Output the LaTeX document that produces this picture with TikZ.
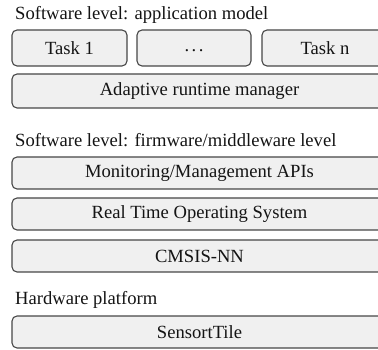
\documentclass[tikz,border=0pt]{standalone}
\usepackage{fontspec}
\setmainfont{Liberation Serif}
\begin{document}
\begin{tikzpicture}[x=1pt,y=1pt,
  layerbox/.style={draw=black!72, fill=black!6, line width=1.1pt, rounded corners=5pt,
    font=\fontsize{18.6}{20}\selectfont, inner sep=0pt, text=black!92},
  heading/.style={anchor=base west, inner sep=0pt, font=\fontsize{18.6}{20}\selectfont, text=black!92}]
\useasboundingbox (0,0) rectangle (378,-350);
\clip (0,0) rectangle (378,-350);
% application level
\node[heading] (h1) at (15,-20) {Software level: application model};
\node[layerbox, minimum width=115pt, minimum height=36pt] (t1) at (69.5,-48) {Task 1};
\node[layerbox, minimum width=114pt, minimum height=36pt] (tdots) at (194,-48) {\strut.\kern2.5pt.\kern2.5pt.};
\node[layerbox, minimum width=126pt, minimum height=36pt] (tn) at (325,-48) {Task n};
\node[layerbox, minimum width=375pt, minimum height=34pt] (arm) at (199.5,-91) {Adaptive runtime manager};
% firmware / middleware
\node[heading] (h2) at (15,-147) {Software level: firmware/middleware level};
\node[layerbox, minimum width=375pt, minimum height=32pt] (api) at (199.5,-173) {Monitoring/Management APIs};
\node[layerbox, minimum width=375pt, minimum height=32pt] (rtos) at (199.5,-214) {Real Time Operating System};
\node[layerbox, minimum width=375pt, minimum height=32pt] (cmsis) at (199.5,-256) {CMSIS-NN};
% hardware
\node[heading] (h3) at (15,-305) {Hardware platform};
\node[layerbox, minimum width=375pt, minimum height=32pt] (st) at (199.5,-332) {SensortTile};
\end{tikzpicture}
\end{document}
